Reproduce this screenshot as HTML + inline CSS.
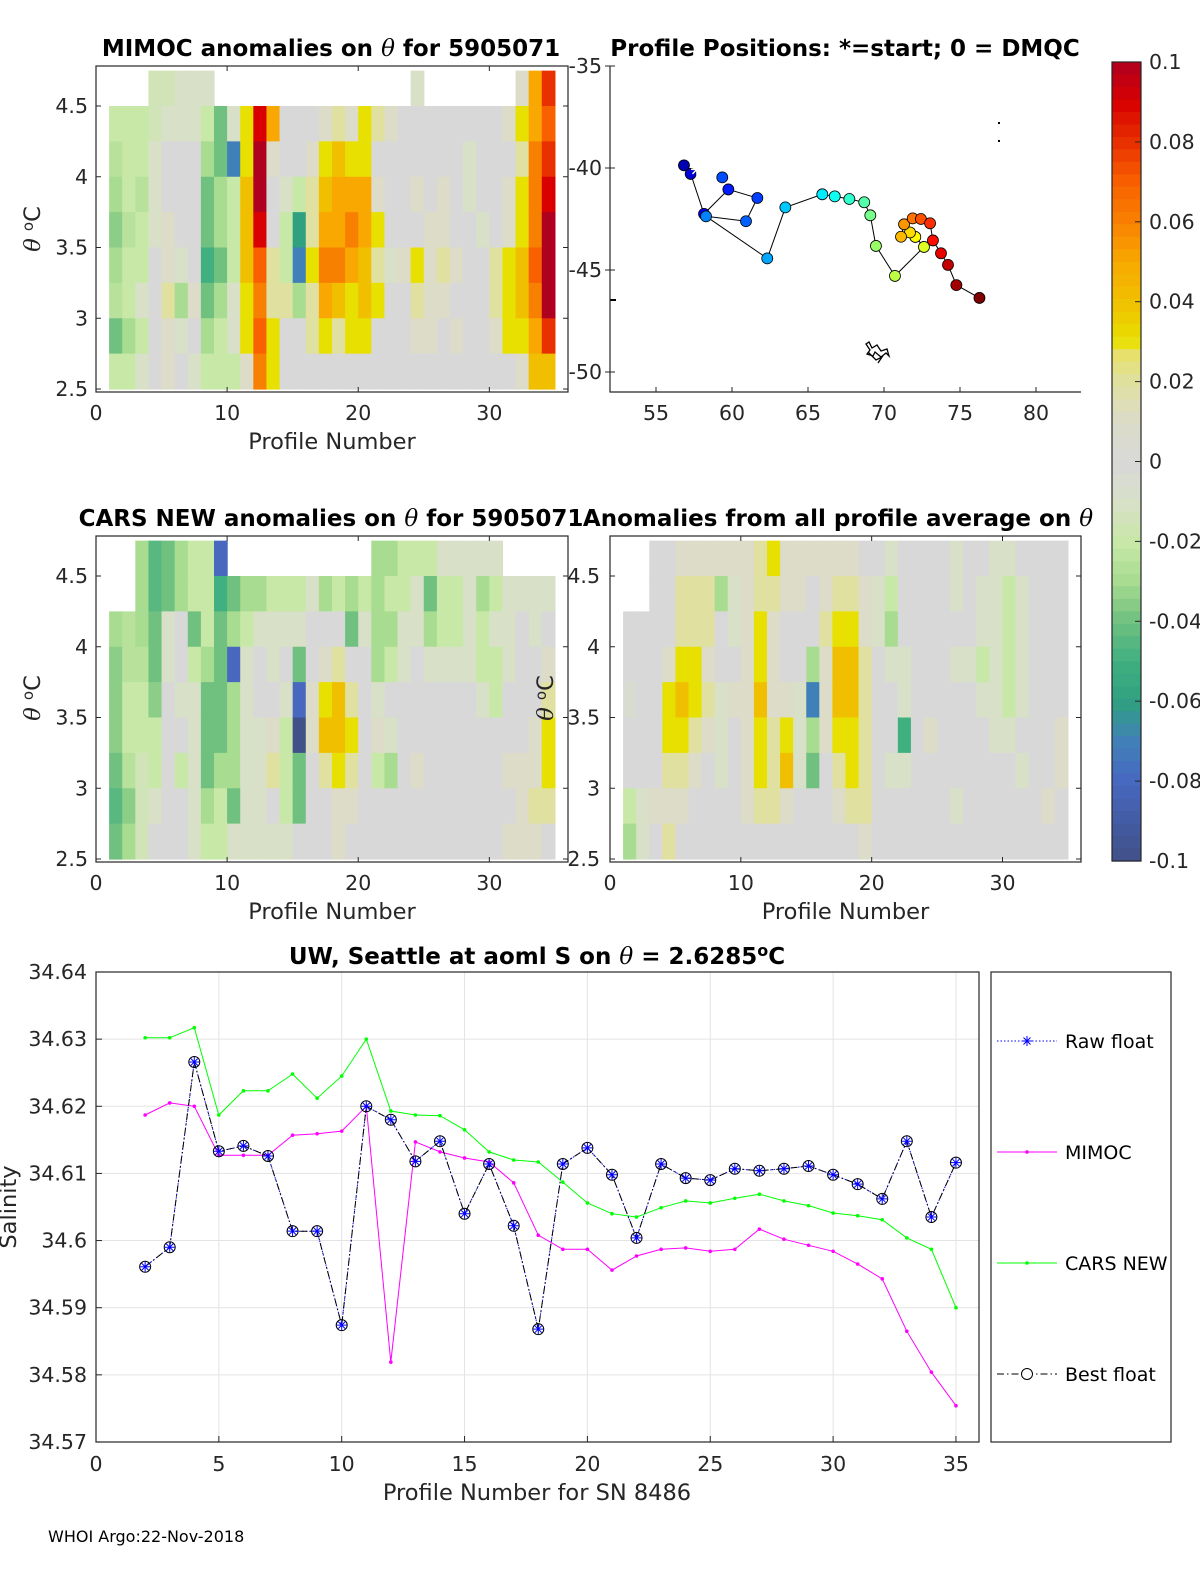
<!DOCTYPE html>
<html><head><meta charset="utf-8"><title>Argo float 5905071 anomalies</title>
<style>
html,body{margin:0;padding:0;background:#fff;}
svg{display:block;font-family:"DejaVu Sans","Liberation Sans",sans-serif;}
</style></head>
<body>
<svg id="fig" width="1200" height="1575" viewBox="0 0 1200 1575" xmlns="http://www.w3.org/2000/svg"></svg>
<script>
// ---------- data ----------
const n = null;
const mimocGrid = [
[n,-2,-2.5,-3,-3.5,-3,-2.5,-4,-2],[n,-2,-2,-2,-2.5,-2,-2,-3,-2],[n,-2,-2,-2.5,-2,-2,-1,-2,-1],
[-1.5,-1.5,-1,-1,-1,0,0,0,0],[-1.5,-1,0,0,1,1,2,1,1],[-1,-1,0,0,0,-1,-3,-1,0],[-1,-1,0,0,0,0,1,0,-1],
[-1,-2,-3,-4,-4,-5,-4,-3,-2],[n,-4,-4,-3,-3,-4,-3,-2,-2],[n,-1,-7,-2,-2,-2,-1,-1,-2],
[n,3,3,4,4,4,3,3,1],[n,9,10,10,9,7,6,7,6],[n,5,1,0,0,2,2,3,3],[n,0,0,-1,-2,-2,2,0,0],
[n,0,0,-2,-6,-7,-3,0,0],[n,0,1,2,2,3,2,2,0],[n,1,3,4,5,6,5,3,0],[n,2,4,5,5,6,4,2,0],
[n,1,3,5,6,5,3,3,0],[n,3,3,5,5,4,4,3,0],[n,2,0,1,3,2,3,0,0],[n,1,0,0,0,-1,0,0,0],
[n,0,0,0,0,1,0,0,0],[-1,0,0,1,0,3,2,1,0],[n,0,0,0,1,1,1,1,0],[n,0,0,1,1,2,1,0,0],
[n,0,0,0,0,1,0,1,0],[n,0,-1,-1,0,0,0,0,0],[n,0,0,0,-1,0,0,0,0],[n,0,0,0,0,2,2,1,0],
[n,1,0,1,1,3,3,3,0],[1,3,2,3,3,4,4,3,1],[5,5,6,6,6,7,6,5,4],[8,7,8,9,10,10,10,8,4]];
const carsGrid = [
[n,n,-3,-3.5,-3.5,-3.5,-4,-4.5,-4],[n,n,-2.5,-2.5,-2,-2,-2.5,-3.5,-3],[-3,-3,-3,-2.5,-2,-2,-1.5,-1.5,-1.5],
[-4.5,-4.5,-4,-4,-3.5,-2,-2,-1,0],[-4,-4,-1,-1,0,0,0,0,0],[-3,-3,0,0,-1,0,-2,0,0],[-2,-2,-4,-2,-1,-1,-1,-1,-1],
[-2,-2,-2,-3,-4,-4,-4,-3,-2],[-8,-5,-4,-4,-4,-4,-3,-2,-2],[n,-4,-3,-8,-3,-3,-3,-4,-1],
[n,-3,-2,-1,-1,-1,-1,-1,-1],[n,-3,-1,0,0,-1,-1,-1,-1],[n,-2,-1,-1,0,1,2,0,-1],[n,-2,-1,0,-1,-2,-2,-2,-1],
[n,-2,-1,-4,-8,-10,-4,-4,0],[n,-1,0,0,1,1,0,0,0],[n,-3,0,1,3,4,2,0,0],[n,-2,0,2,4,4,3,1,1],
[n,-3,-4,0,2,3,2,1,0],[n,-2,-1,0,0,0,0,0,0],[-3,-3,-3,-3,-1,1,-2,0,0],[-3,-2,-3,-2,0,-1,-3,0,0],
[-2,-2,-1,-1,0,0,0,0,0],[-2,-1,-1,0,0,0,1,0,0],[-2,-4,-3,-1,0,0,0,0,0],[-1,-2,-2,-1,0,0,0,0,0],
[-1,-2,-2,-1,0,0,0,0,0],[-1,-1,-1,-1,0,0,0,0,0],[-1,-3,-2,-2,-1,0,0,0,0],[-1,-2,-1,-2,-2,0,0,0,0],
[n,-1,-1,-1,0,0,1,0,1],[n,-1,0,0,0,0,1,1,1],[n,-1,-1,0,0,1,1,2,1],[n,-1,0,1,2,3,3,2,0]];
const avgGrid = [
[n,n,0,0,-0.5,0,0,-2,-3],[n,n,0,0,0,0,0,-1,-1],[0,0,0,0,0,0,0,1,0],[0,0,0,1,3,3,2,1,2],
[1,2,2,3,4,3,2,1,0],[1,2,2,3,3,2,1,0,0],[1,2,2,1,2,1,0,0,0],[1,-3,0,0,-1,-1,-1,0,0],
[1,-1,-1,0,1,0,0,0,0],[1,1,1,1,1,1,1,1,0],[2,2,3,3,4,3,3,2,0],[3,2,1,1,1,2,2,2,0],
[1,1,0,0,1,3,4,1,0],[1,1,0,0,-1,-1,-1,0,0],[1,0,0,-3,-7,-3,-4,0,0],[1,1,2,1,1,1,0,0,0],
[1,2,3,4,4,3,2,1,0],[1,2,3,4,4,3,3,2,0],[0,1,1,2,2,2,2,2,1],[0,-1,-1,0,0,0,0,0,0],
[-1,-2,-3,-1,0,0,-1,0,0],[0,0,0,-1,-1,-5,-1,0,0],[0,0,0,0,0,0,0,0,0],[0,0,0,0,0,1,0,0,0],
[0,0,0,0,0,0,0,0,0],[-1,-1,0,-1,0,0,0,-1,0],[0,0,0,-1,0,0,0,0,0],[0,-1,-1,-2,-1,0,0,0,0],
[-1,-1,-1,-1,-1,-1,0,0,0],[-1,-2,-2,-2,-2,-1,0,0,0],[0,-1,-1,-1,-1,0,-1,0,0],[0,0,0,0,0,0,0,0,0],
[0,0,0,0,0,0,0,1,0],[0,0,0,0,0,1,1,0,0]];
const mapLon = [56.84,57.28,58.16,59.76,61.67,60.92,58.29,62.32,63.51,65.94,66.76,67.72,68.70,69.10,69.47,70.72,72.63,72.06,71.71,71.12,71.32,71.89,72.43,73.03,73.22,73.75,74.21,74.76,76.28];
const mapLat = [-39.87,-40.29,-42.25,-41.05,-41.47,-42.61,-42.37,-44.43,-41.93,-41.29,-41.39,-41.52,-41.68,-42.32,-43.82,-45.29,-43.87,-43.38,-43.16,-43.37,-42.76,-42.47,-42.5,-42.71,-43.55,-44.18,-44.75,-45.74,-46.37];
const extraLon = [59.36];
const extraLat = [-40.46];
const profiles = [2,3,4,5,6,7,8,9,10,11,12,13,14,15,16,17,18,19,20,21,22,23,24,25,26,27,28,29,30,31,32,33,34,35];
const bestFloat = [34.5961,34.5990,34.6266,34.6133,34.6141,34.6126,34.6014,34.6014,34.5874,34.6200,34.6180,34.6118,34.6148,34.6040,34.6114,34.6022,34.5868,34.6114,34.6138,34.6098,34.6004,34.6114,34.6093,34.6090,34.6107,34.6104,34.6107,34.6111,34.6098,34.6084,34.6062,34.6148,34.6035,34.6116];
const mimocS = [34.6187,34.6205,34.6200,34.6127,34.6127,34.6127,34.6157,34.6159,34.6163,34.6200,34.5819,34.6147,34.6132,34.6123,34.6117,34.6086,34.6008,34.5987,34.5987,34.5956,34.5977,34.5987,34.5989,34.5984,34.5987,34.6017,34.6002,34.5993,34.5984,34.5965,34.5943,34.5865,34.5804,34.5754];
const carsS = [34.6302,34.6302,34.6317,34.6187,34.6223,34.6223,34.6248,34.6212,34.6245,34.6300,34.6193,34.6187,34.6186,34.6165,34.6132,34.6120,34.6117,34.6087,34.6056,34.6040,34.6035,34.6049,34.6059,34.6056,34.6063,34.6069,34.6059,34.6052,34.6041,34.6037,34.6031,34.6004,34.5987,34.5900];
const heatXTicks = [0,10,20,30];
const thetaTicks = [2.5,3,3.5,4,4.5];
const thetaTickLabels = ["2.5","3","3.5","4","4.5"];
const lonTicks = [55,60,65,70,75,80];
const latTicks = [-35,-40,-45,-50];
const cbTicks = [-0.1,-0.08,-0.06,-0.04,-0.02,0,0.02,0.04,0.06,0.08,0.1];
const cbTickLabels = ["-0.1","-0.08","-0.06","-0.04","-0.02","0","0.02","0.04","0.06","0.08","0.1"];
const salXTicks = [0,5,10,15,20,25,30,35];
const salYTicks = [34.57,34.58,34.59,34.6,34.61,34.62,34.63,34.64];
const salYTickLabels = ["34.57","34.58","34.59","34.6","34.61","34.62","34.63","34.64"];

// ---------- helpers ----------
const svg = document.getElementById('fig');
const NS = 'http://www.w3.org/2000/svg';
function mk(tag, attrs, parent, text){
  const e = document.createElementNS(NS, tag);
  for (const k in attrs) e.setAttribute(k, attrs[k]);
  if (text !== undefined) e.textContent = text;
  (parent || svg).appendChild(e);
  return e;
}
const stops = [[-0.1,[64,80,136]],[-0.08,[72,104,192]],[-0.07,[64,128,184]],[-0.06,[48,160,128]],[-0.05,[64,176,128]],[-0.04,[112,192,128]],[-0.03,[168,220,144]],[-0.02,[200,232,168]],[-0.01,[216,224,200]],[0,[216,216,216]],[0.01,[220,220,200]],[0.02,[224,224,160]],[0.028,[232,224,96]],[0.03,[232,224,0]],[0.04,[240,192,0]],[0.05,[248,168,0]],[0.06,[248,128,0]],[0.07,[248,96,0]],[0.08,[232,48,0]],[0.09,[216,0,0]],[0.1,[176,0,32]]];
function cmap(v){
  v = Math.max(-0.1, Math.min(0.1, v));
  for (let i=0;i<stops.length-1;i++){
    const a=stops[i], b=stops[i+1];
    if (v>=a[0] && v<=b[0]){
      const t=(v-a[0])/(b[0]-a[0]);
      const c=a[1].map((x,j)=>Math.round(x+(b[1][j]-x)*t));
      return 'rgb('+c.join(',')+')';
    }
  }
  return 'rgb(216,216,216)';
}
function jet(t){
  const r=Math.max(0,Math.min(1,1.5-Math.abs(4*t-3)));
  const g=Math.max(0,Math.min(1,1.5-Math.abs(4*t-2)));
  const b=Math.max(0,Math.min(1,1.5-Math.abs(4*t-1)));
  return 'rgb('+[r,g,b].map(x=>Math.round(x*255)).join(',')+')';
}
const FS = 20.5;
const TFS = 23;
const LFS = 22.5;

function boldTitle(parent, x, y, before, after){
  const tt = mk('text', {x:x, y:y, 'font-size':TFS, 'font-weight':'bold', 'text-anchor':'middle', fill:'#000'}, parent);
  mk('tspan', {}, tt, before);
  mk('tspan', {'font-style':'italic', 'font-weight':'normal', 'font-family':'"DejaVu Serif","Liberation Serif",serif'}, tt, '\u03B8');
  if (after) mk('tspan', {}, tt, after);
  return tt;
}

// ---------- heatmap panels ----------
function heatPanel(name, x0, y0, w, h, grid, showLeftLabels, tBefore, tAfter, titleX){
  const xs = v => x0 + (v/36)*w;
  const ys = t => (y0+h-3) - (t-2.5)*141.5;
  const g = mk('g', {}, svg);
  
  
  grid.forEach((col, k) => {
    col.forEach((val, r) => {
      if (val === null) return;
      const tTop = 4.75 - 0.25*r, tBot = tTop - 0.25;
      const c = mk('rect', {x: xs(k+1).toFixed(2), y: ys(tTop).toFixed(2), width: (xs(k+2)-xs(k+1)+0.6).toFixed(2), height: (ys(tBot)-ys(tTop)+0.6).toFixed(2), fill: cmap(val/100)}, g);
      
      
    });
  });
  const box = mk('rect', {x:x0, y:y0, width:w, height:h, fill:'none', stroke:'#262626', 'stroke-width':1.2}, g);
  
  
  heatXTicks.forEach(v => {
    mk('line', {x1:xs(v), x2:xs(v), y1:y0+h, y2:y0+h-5, stroke:'#262626'}, g);
    mk('line', {x1:xs(v), x2:xs(v), y1:y0, y2:y0+5, stroke:'#262626'}, g);
    const t = mk('text', {x:xs(v), y:y0+h+28, 'font-size':FS, 'text-anchor':'middle', fill:'#262626'}, g, String(v));
    
    
  });
  thetaTicks.forEach((v,i) => {
    mk('line', {x1:x0, x2:x0+5, y1:ys(v), y2:ys(v), stroke:'#262626'}, g);
    mk('line', {x1:x0+w, x2:x0+w-5, y1:ys(v), y2:ys(v), stroke:'#262626'}, g);
    if (showLeftLabels){
      const t = mk('text', {x:x0-8, y:ys(v)+7, 'font-size':FS, 'text-anchor':'end', fill:'#262626'}, g, thetaTickLabels[i]);
      
      
    }
  });
  const tt = boldTitle(g, titleX, y0-10, tBefore, tAfter);
  
  
  const xl = mk('text', {x:x0+w/2, y:y0+h+57, 'font-size':LFS, 'text-anchor':'middle', fill:'#262626'}, g, 'Profile Number');
  
  
  return g;
}
heatPanel('mimoc-heatmap', 96, 66, 472, 326, mimocGrid, true, 'MIMOC anomalies on ', '  for 5905071', 331);
heatPanel('cars-heatmap', 96, 536, 472, 326, carsGrid, true, 'CARS NEW anomalies on ', ' for 5905071', 331);
heatPanel('profile-average-heatmap', 610, 536, 471, 326, avgGrid, false, 'Anomalies from all profile average on ', '', 838);

// right-panel theta labels (left of box)
thetaTicks.forEach((v,i) => {
  const t = mk('text', {x:600, y:(859-(v-2.5)*141.5)+7, 'font-size':FS, 'text-anchor':'end', fill:'#262626'}, svg, thetaTickLabels[i]);
  
  
});
function thetaLabel(x, y, name){
  const t = mk('text', {transform:'translate('+x+','+y+') rotate(-90)', 'font-size':LFS, 'text-anchor':'middle', fill:'#262626'}, svg);
  
  
  mk('tspan', {'font-style':'italic', 'font-family':'"DejaVu Serif","Liberation Serif",serif'}, t, '\u03B8 ');
  mk('tspan', {dy:-7, 'font-size':15}, t, 'o');
  mk('tspan', {dy:7}, t, 'C');
}
thetaLabel(40, 229, 'y-axis-title');
thetaLabel(40, 698, 'y-axis-title');
thetaLabel(553, 698, 'y-axis-title');

// ---------- map ----------
(function(){
  const x0=610, y0=66, w=471, h=326;
  const lx = v => 656 + (v-55)*15.2;
  const ly = v => 168 - (v+40)*20.4;
  const g = mk('g', {}, svg);
  
  
  let d = '';
  mapLon.forEach((v,i)=>{ d += (i?'L':'M') + lx(v).toFixed(1) + ' ' + ly(mapLat[i]).toFixed(1); });
  const tr = mk('path', {d:d, fill:'none', stroke:'#000', 'stroke-width':1}, g);
  
  
  extraLon.forEach((v,i)=>{
    const c = mk('circle', {cx:lx(v), cy:ly(extraLat[i]), r:5.5, fill:jet(0.2), stroke:'#000', 'stroke-width':0.8}, g);
    
    
  });
  mapLon.forEach((v,i)=>{
    const c = mk('circle', {cx:lx(v), cy:ly(mapLat[i]), r:5.5, fill:jet(0.05+0.95*i/(mapLon.length-1)), stroke:'#000', 'stroke-width':0.8}, g);
    
    
  });
  const sx = lx(mapLon[0])+13, sy = ly(mapLat[0])+4;
  const star = mk('path', {d:'M'+(sx-6)+' '+sy+'H'+(sx+6)+'M'+sx+' '+(sy-6)+'V'+(sy+6)+'M'+(sx-4.5)+' '+(sy-4.5)+'L'+(sx+4.5)+' '+(sy+4.5)+'M'+(sx-4.5)+' '+(sy+4.5)+'L'+(sx+4.5)+' '+(sy-4.5), stroke:'#fff', 'stroke-width':1.5}, g);
  
  
  const sq = mk('path', {d:'M866 344 l4 6 l-3 4 l6 2 l2 -4 l6 5 l5 -4 l3 3 l-2 -7 l-6 2 l-4 -6 l-5 3 l-3 -6 z M868 352 l8 8 l6 -3 l-4 6', fill:'none', stroke:'#000', 'stroke-width':1.3}, g);
  
  
  mk('rect', {x:998, y:122, width:2, height:2, fill:'#000'}, g);
  mk('rect', {x:998, y:140, width:2, height:2, fill:'#000'}, g);
  mk('line', {x1:610, x2:616, y1:300, y2:300, stroke:'#000', 'stroke-width':2}, g);
  const box = mk('path', {d:'M'+x0+' '+y0+' V'+(y0+h)+' H'+(x0+w), fill:'none', stroke:'#262626', 'stroke-width':1.2}, g);
  
  
  lonTicks.forEach(v=>{
    mk('line', {x1:lx(v), x2:lx(v), y1:y0+h, y2:y0+h-5, stroke:'#262626'}, g);
    const t = mk('text', {x:lx(v), y:y0+h+28, 'font-size':FS, 'text-anchor':'middle', fill:'#262626'}, g, String(v));
    
    
  });
  latTicks.forEach(v=>{
    mk('line', {x1:x0, x2:x0+5, y1:ly(v), y2:ly(v), stroke:'#262626'}, g);
    mk('line', {x1:x0-5, x2:x0, y1:ly(v), y2:ly(v), stroke:'#262626'}, g);
    const t = mk('text', {x:x0-8, y:ly(v)+7, 'font-size':FS, 'text-anchor':'end', fill:'#262626'}, g, String(v));
    
    
  });
  const tt = mk('text', {x:845, y:56, 'font-size':TFS, 'font-weight':'bold', 'text-anchor':'middle', fill:'#000'}, g, 'Profile Positions: *=start; 0 = DMQC');
  
  
})();

// ---------- colorbar ----------
(function(){
  const x0=1112, y0=62, w=29, h=799;
  const cy = v => y0 + (0.1 - v)/0.2*h;
  const g = mk('g', {}, svg);
  
  
  for (let i=0;i<64;i++){
    const v1 = 0.1 - i*0.2/64;
    mk('rect', {x:x0, y:cy(v1).toFixed(2), width:w, height:(h/64+0.6).toFixed(2), fill:cmap(v1 - 0.1/64)}, g);
  }
  mk('rect', {x:x0, y:y0, width:w, height:h, fill:'none', stroke:'#262626', 'stroke-width':1.2}, g);
  cbTicks.forEach((v,i)=>{
    mk('line', {x1:x0+w-6, x2:x0+w, y1:cy(v), y2:cy(v), stroke:'#262626'}, g);
    const t = mk('text', {x:x0+w+8, y:cy(v)+7, 'font-size':FS, fill:'#262626'}, g, cbTickLabels[i]);
    
    
  });
})();

// ---------- salinity chart ----------
(function(){
  const x0=96, y0=972, w=883, h=470;
  const xs = p => x0 + p*24.57;
  const ys = v => y0 + (34.64 - v)*6714;
  const g = mk('g', {}, svg);
  
  
  salXTicks.forEach(v=>{
    const gl = mk('line', {x1:xs(v), x2:xs(v), y1:y0, y2:y0+h, stroke:'#e3e3e3'}, g);
    
    
  });
  salYTicks.forEach(v=>{
    const gl = mk('line', {x1:x0, x2:x0+w, y1:ys(v), y2:ys(v), stroke:'#e3e3e3'}, g);
    
    
  });
  function series(vals, color, dash, name){
    let d='';
    vals.forEach((v,i)=>{ d += (i?'L':'M') + xs(profiles[i]).toFixed(1) + ' ' + ys(v).toFixed(1); });
    const p = mk('path', {d:d, fill:'none', stroke:color, 'stroke-width':1, 'stroke-dasharray':dash}, g);
    
    
  }
  series(carsS, '#00ff00', 'none', 'cars-new-line');
  carsS.forEach((v,i)=>{
    const c = mk('circle', {cx:xs(profiles[i]), cy:ys(v), r:1.8, fill:'#00ff00'}, g);
    
    
  });
  series(mimocS, '#ff00ff', 'none', 'mimoc-line');
  mimocS.forEach((v,i)=>{
    const c = mk('circle', {cx:xs(profiles[i]), cy:ys(v), r:1.8, fill:'#ff00ff'}, g);
    
    
  });
  series(bestFloat, '#0000ff', '1.5 2', 'raw-float-line');
  series(bestFloat, '#000', '7 3 1.5 3', 'best-float-line');
  bestFloat.forEach((v,i)=>{
    const x=xs(profiles[i]), y=ys(v);
    const c = mk('circle', {cx:x, cy:y, r:5.5, fill:'none', stroke:'#000', 'stroke-width':1}, g);
    
    
    const s = mk('path', {d:'M'+(x-5)+' '+y+'H'+(x+5)+'M'+x+' '+(y-5)+'V'+(y+5)+'M'+(x-3.5)+' '+(y-3.5)+'L'+(x+3.5)+' '+(y+3.5)+'M'+(x-3.5)+' '+(y+3.5)+'L'+(x+3.5)+' '+(y-3.5), stroke:'#0000ff', 'stroke-width':1}, g);
    
    
  });
  mk('rect', {x:x0, y:y0, width:w, height:h, fill:'none', stroke:'#262626', 'stroke-width':1.2}, g);
  salXTicks.forEach(v=>{
    mk('line', {x1:xs(v), x2:xs(v), y1:y0+h, y2:y0+h-6, stroke:'#262626'}, g);
    const t = mk('text', {x:xs(v), y:y0+h+29, 'font-size':FS, 'text-anchor':'middle', fill:'#262626'}, g, String(v));
    
    
  });
  salYTicks.forEach((v,i)=>{
    mk('line', {x1:x0, x2:x0+6, y1:ys(v), y2:ys(v), stroke:'#262626'}, g);
    const t = mk('text', {x:x0-9, y:ys(v)+7, 'font-size':FS, 'text-anchor':'end', fill:'#262626'}, g, salYTickLabels[i]);
    
    
  });
  const tt = mk('text', {x:537, y:964, 'font-size':TFS, 'font-weight':'bold', 'text-anchor':'middle', fill:'#000'}, g);
  
  
  mk('tspan', {}, tt, 'UW, Seattle at aoml S on ');
  mk('tspan', {'font-style':'italic', 'font-weight':'normal', 'font-family':'"DejaVu Serif","Liberation Serif",serif'}, tt, '\u03B8');
  mk('tspan', {}, tt, ' = 2.6285');
  mk('tspan', {dy:-8, 'font-size':16}, tt, 'o');
  mk('tspan', {dy:8}, tt, 'C');
  const xl = mk('text', {x:537, y:1500, 'font-size':LFS, 'text-anchor':'middle', fill:'#262626'}, g, 'Profile Number for SN 8486');
  
  
  const yl = mk('text', {transform:'translate(16,1207) rotate(-90)', 'font-size':LFS, 'text-anchor':'middle', fill:'#262626'}, g, 'Salinity');
  
  

  // legend
  const lg = mk('g', {}, svg);
  
  
  mk('rect', {x:991, y:972, width:180, height:470, fill:'#fff', stroke:'#262626', 'stroke-width':1.2}, lg);
  const entries = [['Raw float',1041,'#0000ff','1.5 2','star'],['MIMOC',1152,'#ff00ff','none','dot'],['CARS NEW',1263,'#00ff00','none','dot'],['Best float',1374,'#000','7 3 1.5 3','circle']];
  entries.forEach(e=>{
    const eg = mk('g', {}, lg);
    
    
    mk('line', {x1:997, x2:1057, y1:e[1], y2:e[1], stroke:e[2], 'stroke-dasharray':e[3]}, eg);
    const cx=1027, cy=e[1];
    if (e[4]==='dot') mk('circle', {cx:cx, cy:cy, r:1.8, fill:e[2]}, eg);
    if (e[4]==='circle') mk('circle', {cx:cx, cy:cy, r:5.5, fill:'#fff', stroke:'#000'}, eg);
    if (e[4]==='star') mk('path', {d:'M'+(cx-5)+' '+cy+'H'+(cx+5)+'M'+cx+' '+(cy-5)+'V'+(cy+5)+'M'+(cx-3.5)+' '+(cy-3.5)+'L'+(cx+3.5)+' '+(cy+3.5)+'M'+(cx-3.5)+' '+(cy+3.5)+'L'+(cx+3.5)+' '+(cy-3.5), stroke:'#0000ff'}, eg);
    mk('text', {x:1065, y:e[1]+7, 'font-size':19, fill:'#000'}, eg, e[0]);
  });
})();

const foot = mk('text', {x:48, y:1542, 'font-size':16, fill:'#000'}, svg, 'WHOI Argo:22-Nov-2018');


</script>
</body></html>
